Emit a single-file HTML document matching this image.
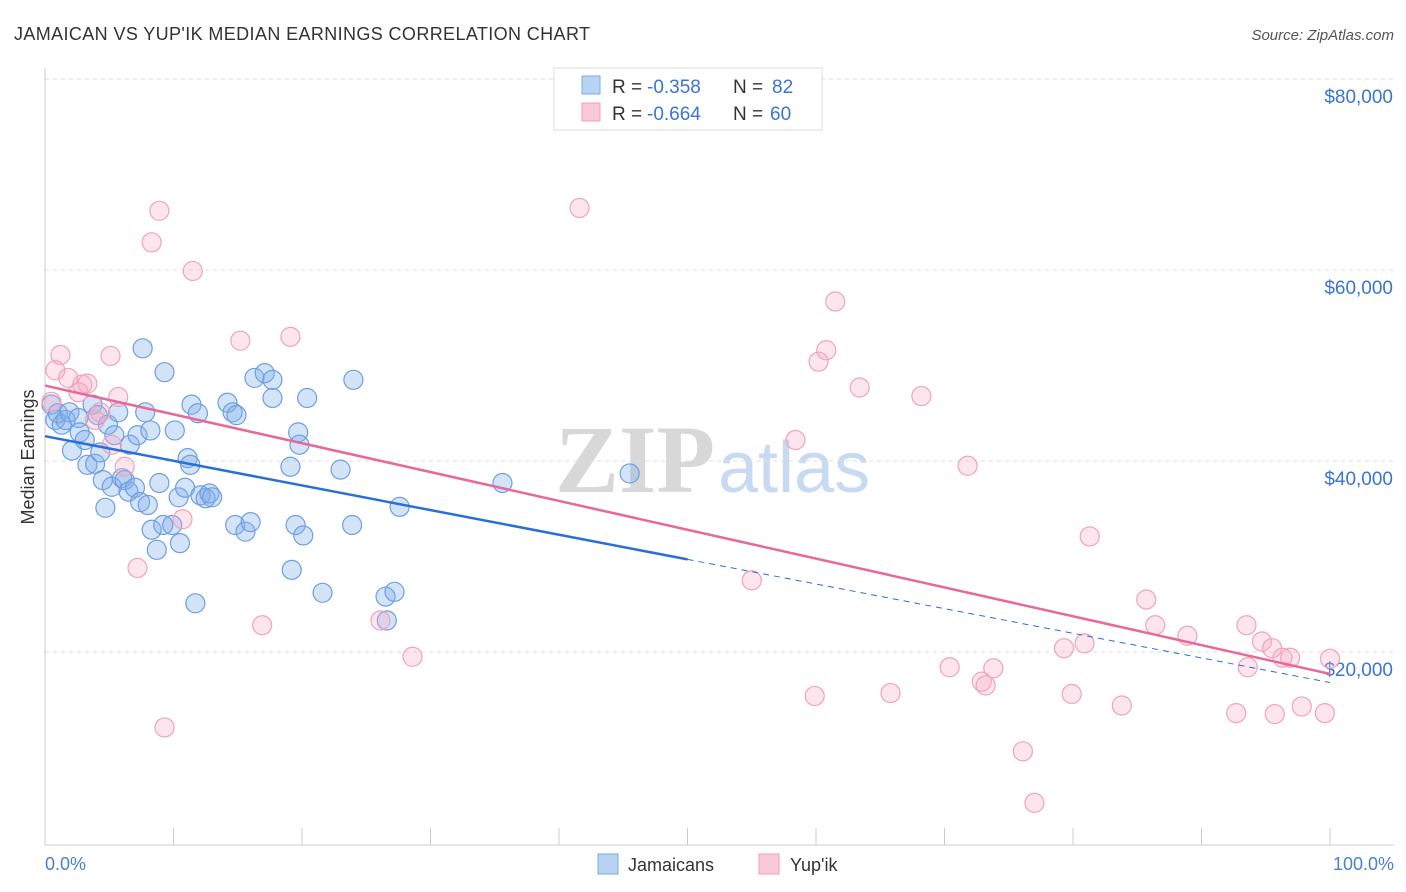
<!DOCTYPE html>
<html><head><meta charset="utf-8"><style>
body{margin:0;background:#fff;font-family:"Liberation Sans",sans-serif;}
svg{display:block}
</style></head><body>
<svg id="chart" width="1406" height="892">
<text x="14" y="40" font-size="18" fill="#333" textLength="576">JAMAICAN VS YUP'IK MEDIAN EARNINGS CORRELATION CHART</text>
<text x="1394" y="40" font-size="15" fill="#555" font-style="italic" text-anchor="end">Source: ZipAtlas.com</text>
<g>
<text x="555" y="492" font-size="96" font-family="Liberation Serif" fill="#d8d8d8" font-weight="bold">ZIP</text>
<text x="718" y="492" font-size="72" fill="#c8daf2">atlas</text>
</g>
<g id="grid"></g>
<g id="axes"></g>
<g id="pts"></g>
<g id="lines"></g>
<text transform="translate(34,457) rotate(-90)" font-size="18" fill="#333" text-anchor="middle">Median Earnings</text>
<text x="45" y="870" font-size="18" fill="#4a7fd4">0.0%</text>
<text x="1394" y="870" font-size="18" fill="#4a7fd4" text-anchor="end">100.0%</text>
<g>
<rect x="554" y="68" width="268" height="62" fill="#fff" stroke="#ddd"/>
<rect x="582" y="76" width="18" height="18" fill="#b9d3f5" stroke="#7aa7e3"/>
<text x="612" y="93" font-size="19" fill="#333">R =</text>
<text x="647" y="93" font-size="19" fill="#3a74d4">-0.358</text>
<text x="733" y="93" font-size="19" fill="#333">N =</text>
<text x="772" y="93" font-size="19" fill="#3a74d4">82</text>
<rect x="582" y="103" width="18" height="18" fill="#f9c9d8" stroke="#eea0b9"/>
<text x="612" y="120" font-size="19" fill="#333">R =</text>
<text x="647" y="120" font-size="19" fill="#3a74d4">-0.664</text>
<text x="733" y="120" font-size="19" fill="#333">N =</text>
<text x="770" y="120" font-size="19" fill="#3a74d4">60</text>
</g>
<g>
<rect x="598" y="854" width="20" height="20" fill="#b9d3f5" stroke="#7aa7e3"/>
<text x="628" y="871" font-size="18" fill="#333">Jamaicans</text>
<rect x="759" y="854" width="20" height="20" fill="#f9c9d8" stroke="#eea0b9"/>
<text x="790" y="871" font-size="18" fill="#333">Yup'ik</text>
</g>
</svg>
<script>
const yTicks=[20000,40000,60000,80000];
const yTickLabels=["$20,000","$40,000","$60,000","$80,000"];
const xTicks=[0,10,20,30,40,50,60,70,80,90,100];
const jamX=[0.5,0.8,1.0,1.3,1.6,1.9,2.1,2.6,2.7,3.1,3.3,3.9,3.7,4.1,4.3,4.5,4.7,4.9,5.2,5.4,5.7,6.0,6.2,6.5,6.6,7.0,7.2,7.4,7.8,8.0,8.2,8.3,8.7,8.9,9.2,9.3,9.9,10.1,10.4,10.5,10.9,11.1,11.3,11.4,11.7,11.9,12.1,12.5,12.8,13.0,14.2,14.6,14.8,14.9,15.6,16.0,16.3,17.1,17.7,17.7,19.1,19.2,19.5,19.7,19.8,20.1,20.4,21.6,23.0,23.9,24.0,26.5,26.6,27.2,27.6,35.6,45.5,7.6];
const jamY=[45.9,44.3,45.0,43.8,44.3,45.1,41.1,44.5,43.0,42.2,39.6,39.7,45.9,44.8,40.9,38.0,35.1,43.8,37.3,42.7,45.1,38.2,38.0,36.8,41.7,37.2,42.7,35.7,45.1,35.4,43.2,32.8,30.7,37.7,33.3,49.3,33.3,43.2,36.2,31.4,37.2,40.3,39.6,45.9,25.1,45.0,36.4,36.1,36.6,36.2,46.1,45.1,33.3,44.8,32.6,33.6,48.7,49.2,48.5,46.6,39.4,28.6,33.3,43.0,41.7,32.2,46.6,26.2,39.1,33.3,48.5,25.8,23.3,26.3,35.2,37.7,38.7,51.8];
const yupX=[0.5,0.8,1.2,1.8,2.6,2.9,3.3,3.9,4.3,5.1,5.2,5.7,6.2,7.2,8.3,8.9,9.3,10.7,11.5,15.2,16.9,19.1,26.1,28.6,41.6,55.0,58.4,59.9,60.2,60.8,61.5,63.4,65.8,68.2,70.4,71.8,72.9,73.2,73.8,76.1,77.0,79.3,79.9,80.9,81.3,83.8,85.7,86.4,88.9,92.7,93.5,93.6,94.7,95.5,95.7,96.3,96.9,97.8,99.6,100];
const yupY=[46.2,49.5,51.1,48.7,47.2,48.0,48.1,44.3,45.1,51.0,41.7,46.7,39.4,28.8,62.9,66.2,12.1,33.9,59.9,52.6,22.8,53.0,23.3,19.5,66.5,27.5,42.2,15.4,50.4,51.6,56.7,47.7,15.7,46.8,18.4,39.5,16.9,16.5,18.3,9.6,4.2,20.4,15.6,20.9,32.1,14.4,25.5,22.8,21.7,13.6,22.8,18.4,21.1,20.4,13.5,19.4,19.4,14.3,13.6,19.3];
const jamTrend=[42.6,16.8]; // value (k$) at 0% and 100%
const yupTrend=[47.9,17.7];
const jamSolidEnd=50;
const NS='http://www.w3.org/2000/svg';
const sx=v=>45+v*12.85;
const sy=k=>843-k*9.55;
function mk(tag,attrs,parent){const e=document.createElementNS(NS,tag);for(const k in attrs)e.setAttribute(k,attrs[k]);parent.appendChild(e);return e;}
const grid=document.getElementById('grid'),axes=document.getElementById('axes'),pts=document.getElementById('pts'),lines=document.getElementById('lines');
yTicks.forEach((t,i)=>{const y=sy(t/1000);
 const l=mk('line',{x1:45,x2:1394,y1:y,y2:y,stroke:'#ddd','stroke-dasharray':'4,4'},grid);
 
 
 const tx=mk('text',{x:1393,y:y+24,'font-size':19,fill:'#3a74d4','text-anchor':'end'},axes);
 tx.textContent=yTickLabels[i];
 
 
});
const al=mk('line',{x1:45,x2:45,y1:68,y2:845,stroke:'#ccc'},axes);


const bl=mk('line',{x1:45,x2:1394,y1:845,y2:845,stroke:'#ccc'},axes);


xTicks.forEach(t=>{const x=sx(t);
 const l=mk('line',{x1:x,x2:x,y1:828,y2:845,stroke:'#ccc'},axes);
 
 
});
jamX.forEach((v,i)=>{const c=mk('circle',{cx:sx(v),cy:sy(jamY[i]),r:9.5,fill:'rgba(130,175,235,0.35)',stroke:'#6e9fe0','stroke-width':1.2},pts);
 
 
});
yupX.forEach((v,i)=>{const c=mk('circle',{cx:sx(v),cy:sy(yupY[i]),r:9.5,fill:'rgba(245,170,195,0.3)',stroke:'#f0a3bc','stroke-width':1.2},pts);
 
 
});
const jv=x=>jamTrend[0]+(jamTrend[1]-jamTrend[0])*x/100;
const yv=x=>yupTrend[0]+(yupTrend[1]-yupTrend[0])*x/100;
const j1=mk('line',{x1:sx(0),y1:sy(jv(0)),x2:sx(jamSolidEnd),y2:sy(jv(jamSolidEnd)),stroke:'#2a6fd8','stroke-width':2.5},lines);


const j2=mk('line',{x1:sx(jamSolidEnd),y1:sy(jv(jamSolidEnd)),x2:sx(100),y2:sy(jv(100)),stroke:'#2a6fd8','stroke-width':1,'stroke-dasharray':'6,5'},lines);


const y1=mk('line',{x1:sx(0),y1:sy(yv(0)),x2:sx(100),y2:sy(yv(100)),stroke:'#e8689a','stroke-width':2.5},lines);


</script>
</body></html>
